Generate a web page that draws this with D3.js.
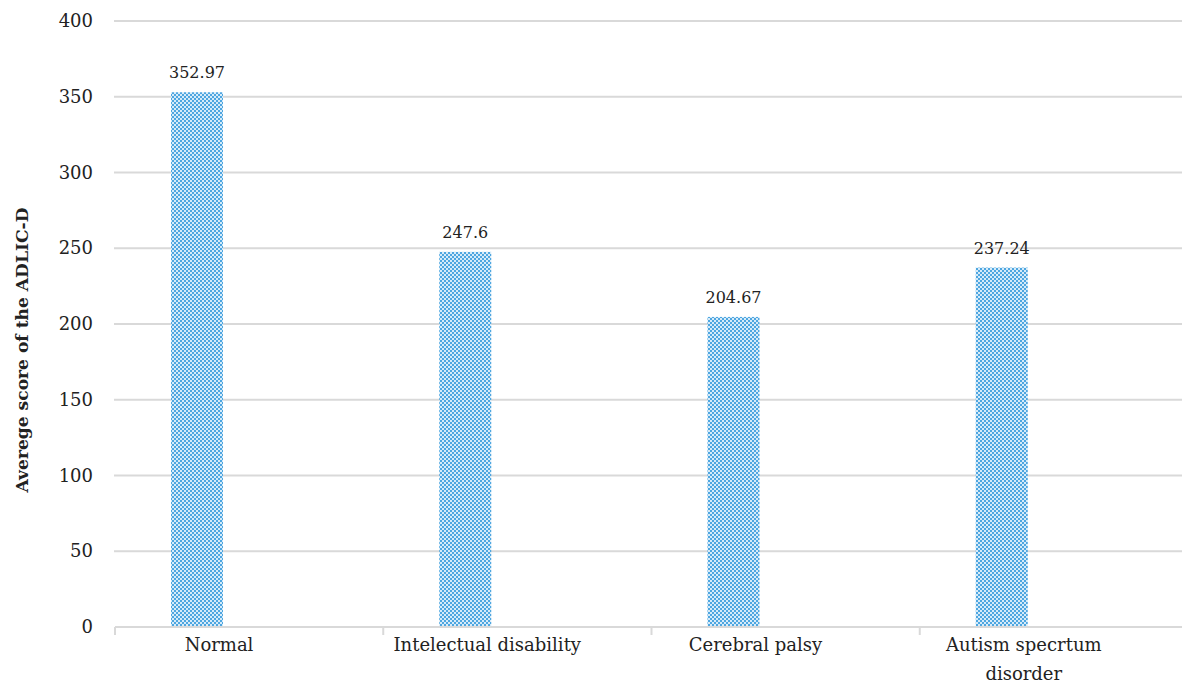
<!DOCTYPE html>
<html>
<head>
<meta charset="utf-8">
<script src="https://cdn.jsdelivr.net/npm/d3@7"></script>
<style>
  html, body { margin: 0; padding: 0; background: #fff; }
  svg text { font-family: "DejaVu Serif", "Liberation Serif", serif; fill: #222; }
</style>
</head>
<body>
<svg id="chart" width="1182" height="684"></svg>
<script>
// Average ADLIC-D score per group
const categories = ["Normal", "Intelectual disability", "Cerebral palsy", "Autism specrtum disorder"];
const values = [352.97, 247.6, 204.67, 237.24];
const valueLabels = ["352.97", "247.6", "204.67", "237.24"];
const yTicks = [0, 50, 100, 150, 200, 250, 300, 350, 400];
const axisTitle = "Averege score of the ADLIC-D";

const svg = d3.select("#chart");
const plotLeft = 115, plotRight = 1188, plotTop = 21, plotBottom = 627;

const x = d3.scaleBand().domain(categories).range([plotLeft, plotRight]).paddingInner(0).paddingOuter(0);
const y = d3.scaleLinear().domain([0, 400]).range([plotBottom, plotTop]);

// checkered fill used by the bars
const defs = svg.append("defs");
const pat = defs.append("pattern")
  .attr("id", "checker").attr("patternUnits", "userSpaceOnUse")
  .attr("width", 4).attr("height", 4);
pat.append("rect").attr("width", 4).attr("height", 4).attr("fill", "#d6ebf9");
pat.append("rect").attr("x", 0).attr("y", 0).attr("width", 2).attr("height", 2).attr("fill", "#4ea6e0");
pat.append("rect").attr("x", 2).attr("y", 2).attr("width", 2).attr("height", 2).attr("fill", "#4ea6e0");

// horizontal gridlines
svg.append("g").selectAll("line").data(yTicks.filter(d => d > 0)).join("line")
  .attr("x1", plotLeft - 1).attr("x2", 1182)
  .attr("y1", d => y(d)).attr("y2", d => y(d))
  .attr("stroke", "#d9d9d9").attr("stroke-width", 2);

// y tick labels
svg.append("g").selectAll("text").data(yTicks).join("text")
  .attr("x", 93).attr("y", d => y(d) + 6)
  .attr("text-anchor", "end").attr("font-size", 18)
  .text(d => d);

// bars
const barOffset = 56, barWidth = 52;
svg.append("g").selectAll("rect").data(values).join("rect")
  .attr("x", (d, i) => x(categories[i]) + barOffset)
  .attr("width", barWidth)
  .attr("y", d => y(d))
  .attr("height", d => y(0) - y(d))
  .attr("fill", "url(#checker)");

// value labels
svg.append("g").selectAll("text").data(values).join("text")
  .attr("x", (d, i) => x(categories[i]) + barOffset + barWidth / 2)
  .attr("y", d => y(d) - 14)
  .attr("text-anchor", "middle").attr("font-size", 16)
  .text((d, i) => valueLabels[i]);

// category axis with boundary ticks
const ax = svg.append("g");
ax.append("line").attr("x1", plotLeft).attr("x2", 1182).attr("y1", plotBottom).attr("y2", plotBottom)
  .attr("stroke", "#d9d9d9").attr("stroke-width", 2);
const bounds = categories.map(c => x(c)).concat([x.range()[1]]);
ax.selectAll("line.tick").data(bounds).join("line").attr("class", "tick")
  .attr("x1", d => d).attr("x2", d => d)
  .attr("y1", plotBottom).attr("y2", plotBottom + 8)
  .attr("stroke", "#d9d9d9").attr("stroke-width", 2);

// category labels, wrapped where needed
const catLines = [["Normal"], ["Intelectual disability"], ["Cerebral palsy"], ["Autism specrtum", "disorder"]];
ax.selectAll("text.cat").data(categories).join("text").attr("class", "cat")
  .attr("y", 651)
  .attr("text-anchor", "middle").attr("font-size", 18)
  .each(function(d, i) {
    d3.select(this).selectAll("tspan").data(catLines[i]).join("tspan")
      .attr("x", x(d) + 104)
      .attr("dy", (t, j) => j === 0 ? 0 : 29)
      .text(t => t);
  });

// y axis title
svg.append("text")
  .attr("transform", "translate(28,350) rotate(-90)")
  .attr("text-anchor", "middle").attr("font-size", 17).attr("font-weight", "bold")
  .attr("textLength", 285).attr("lengthAdjust", "spacingAndGlyphs")
  .text(axisTitle);
</script>
</body>
</html>
